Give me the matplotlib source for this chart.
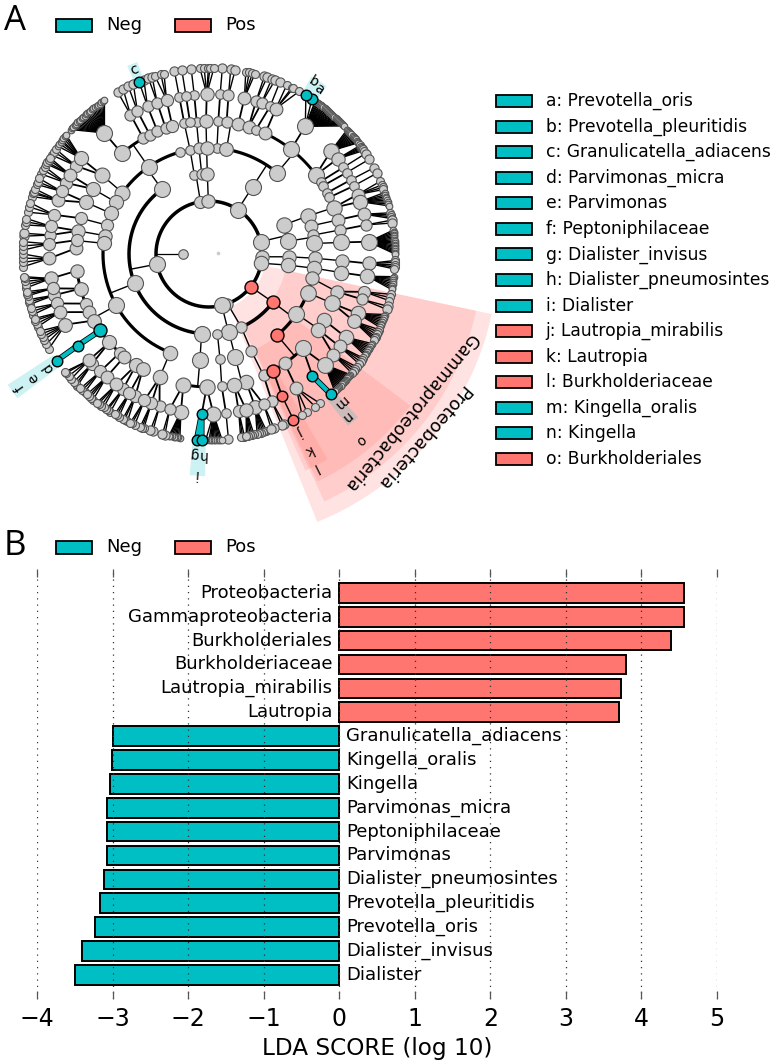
import numpy as np
import matplotlib
matplotlib.use('Agg')
import matplotlib.pyplot as plt
from matplotlib.patches import Polygon, Rectangle

NEG = '#00BFC4'
POS = '#FF7570'
GREY = '#CCCCCC'

# ---- panel B data
bar_names = ['Proteobacteria', 'Gammaproteobacteria', 'Burkholderiales', 'Burkholderiaceae',
             'Lautropia_mirabilis', 'Lautropia', 'Granulicatella_adiacens', 'Kingella_oralis',
             'Kingella', 'Parvimonas_micra', 'Peptoniphilaceae', 'Parvimonas',
             'Dialister_pneumosintes', 'Prevotella_pleuritidis', 'Prevotella_oris',
             'Dialister_invisus', 'Dialister']
bar_scores = [4.57, 4.56, 4.39, 3.80, 3.73, 3.71, -3.00, -3.01, -3.04, -3.08, -3.08, -3.08,
              -3.12, -3.17, -3.24, -3.41, -3.50]
x_ticks = [-4, -3, -2, -1, 0, 1, 2, 3, 4, 5]

# ---- panel A legend
key_names = ['a: Prevotella_oris', 'b: Prevotella_pleuritidis', 'c: Granulicatella_adiacens',
             'd: Parvimonas_micra', 'e: Parvimonas', 'f: Peptoniphilaceae', 'g: Dialister_invisus',
             'h: Dialister_pneumosintes', 'i: Dialister', 'j: Lautropia_mirabilis', 'k: Lautropia',
             'l: Burkholderiaceae', 'm: Kingella_oralis', 'n: Kingella', 'o: Burkholderiales']
key_colors = [NEG, NEG, NEG, NEG, NEG, NEG, NEG, NEG, NEG, POS, POS, POS, NEG, NEG, POS]

# ---- cladogram, angles in degrees, one dict per ring: parent angle -> child angles
L1_theta = [180]
L2_theta = [57, 13.4, -3, -10, -38.2, -69.6, -76, 191, 99.3, 90.7]
L3_children = {57: [57], 13.4: [21.3, 9.2], -3: [-2], -10: [-8], -38.2: [-37], -69.6: [-66.2],
               -76: [-75.7, -84], 191: [126, 201.6, 264.7], 99.3: [100.5, 95.2], 90.7: [91.2]}
L4_children = {57: [85.7, 80.5, 50], 21.3: [21], 9.2: [15.4, 10.3, 5.7], -2: [-2.3], -8: [-7.7],
               -37: [-13.3, -21.4, -34.4, -50], -66.2: [-66.4], -75.7: [-75.7], -84: [-84],
               126: [106, 124.8, 144.7, 150.9], 201.6: [157.5, 164.2, 170, 174.2, 209, 248.4],
               264.7: [265.1], 100.5: [100.3], 95.2: [95.4], 91.2: [91.3]}
L5_children = {85.7: [86], 80.5: [82.4, 77.3],
               50: [72.7, 69.3, 65, 51.9, 36.5, 33, 30.9, 27.4, 25.2],
               21: [20.4], 15.4: [14.8], 10.3: [10.4], 5.7: [5], -2.3: [-2.9], -7.7: [-8],
               -13.3: [-16.4], -21.4: [-21.8], -34.4: [-29.9, -34.7], -50: [-45.2, -55.3, -61.2],
               -66.4: [-65.8], -75.7: [-73.8, -79], -84: [-84.5],
               124.8: [130.9, 119.6, 116.4, 112.8, 109, 106], 144.7: [143.6], 150.9: [150.7],
               157.5: [157.2], 164.2: [164.4], 170: [170], 174.2: [177.5, 174],
               209: [187.2, 195.1, 201.9, 205.9, 210, 215.1, 221.5, 227.9, 230.5, 236.7, 240.1],
               248.4: [248.2], 265.1: [269, 258.9], 100.3: [100.7], 95.4: [95.3, 98.2], 91.3: [91.3]}
L6_children = {86: [86], 82.4: [83], 77.3: [77.2], 72.7: [72.9, 70.8], 69.3: [67.5], 65: [65.3],
               51.9: [53], 36.5: [40.2, 36.5], 33: [32.8], 30.9: [30.6], 27.4: [27.6], 25.2: [25.2],
               20.4: [21.8, 19.1], 14.8: [14.4], 10.4: [10.5], 5: [4.4], -2.9: [-3.4], -8: [-8],
               -16.4: [-13.7, -16.5], -21.8: [-21.8, -24.9], -29.9: [-31.3], -34.7: [-35.3, -39],
               -45.2: [-43.7, -49.7], -55.3: [-56.9], -61.2: [-62.8], -65.8: [-66.9],
               -73.8: [-73.2, -70], -79: [-79.3, -76.6], -84.5: [-83.9],
               130.9: [130.8], 119.6: [119.4], 116.4: [116.6], 112.8: [112.6], 109: [108.9],
               106: [105.4], 143.6: [146.5, 143.2], 150.7: [153.6, 150.3], 157.2: [160.4, 157],
               164.4: [165.8], 170: [173.2, 170.1], 174: [176.4], 177.5: [181.6], 187.2: [188.8],
               195.1: [194.9, 192.4], 201.9: [198], 205.9: [201.3], 210: [206.2], 215.1: [214.9],
               221.5: [223.2, 221.5], 227.9: [227.2], 230.5: [230.2], 236.7: [237.5, 234.6],
               240.1: [242.6, 240.2], 248.2: [252, 248.9, 246.2], 269: [267.4, 271.6],
               258.9: [259.9, 255.8], 100.7: [100.7], 98.2: [98.3], 95.3: [95.3], 91.3: [90.8]}
L7_children = {86: [85.9], 83: [83.3, 81.9], 77.2: [78.6, 77.5, 76.5, 75.7], 72.9: [72.7, 71.8],
               70.8: [70.3, 69.2], 67.5: [67.6], 65.3: [65.3, 63.5, 63, 61],
               53: [58.6, 56.4, 55.2, 54.8, 54.3, 53.9, 53.4, 53, 52.5, 52.1, 51.6, 51.2, 50.7, 50.3,
                    49.8, 49.4, 48.9, 48.5, 48, 47.6, 47.1, 46.7, 46.2, 45.8, 45.3, 44.9, 44.4, 44, 43.5],
               40.2: [42, 41.5, 41, 40.5, 40, 39.5, 39, 38.5, 38, 37.5, 37, 36.7],
               36.5: [35.7, 35.2, 34.8, 34.3, 33.8], 32.8: [32.7], 30.6: [30.6], 27.6: [27.6], 25.2: [25.7],
               21.8: [23, 21.8, 21, 20.3], 19.1: [19.3, 18.6, 18, 17.4, 16.8, 16.2, 15.6, 15],
               14.4: [12.8, 12.2, 11.6, 11], 10.5: [10.5, 9.6],
               4.4: [7.4, 6.9, 6.4, 5.9, 5.4, 4.9, 4.4, 3.9, 3.4, 2.9, 2.4, 1.9, 1.4, 0.9, 0.4, 0],
               -3.4: [-2, -2.6, -3.4, -4, -4.6], -8: [-7, -7.5, -8, -8.6, -9.2, -9.8, -10.4, -11],
               -13.7: [-12.5, -13.5, -14.5], -16.5: [-16.3, -17.3],
               -21.8: [-19, -19.6, -20.2, -20.8, -21.4, -22, -22.6, -23.2],
               -24.9: [-24, -24.8, -25.6, -26.4, -27, -27.6],
               -31.3: [-28.8, -29.4, -30, -30.6, -31.2, -31.8, -32.4, -33],
               -35.3: [-34, -34.6, -35.4, -36.2], -39: [-37.4, -38.2, -39, -39.8],
               -43.7: [-40.5, -41, -41.5, -42, -42.5, -43, -43.5, -44, -44.5, -45, -45.5, -46, -46.5, -47, -47.5],
               -49.7: [-49], -56.9: [-53.4, -55.2, -58.2, -60], -62.8: [-63], -66.9: [-66.1, -67],
               -70: [-69.5, -70.4], -73.2: [-72, -72.6, -73.2, -73.8, -74.4, -75],
               -76.6: [-76, -76.6, -77.2, -77.8, -78.4], -79.3: [-79, -79.6, -80.2], -83.9: [-84],
               271.6: [269, 270, 270.5, 271, 271.5, 272, 272.5, 273, 273.5, 274],
               267.4: [266.2, 267.7], 259.9: [261, 260.5, 260, 259.5, 259, 258.5, 258, 257.6],
               255.8: [256.3, 255.5], 252: [252.4, 251.6], 248.9: [249.5, 248.9, 248.3],
               246.2: [246.5, 245.6, 245], 242.6: [244, 243, 242.4], 240.2: [241, 240.2, 239.5],
               237.5: [238, 237, 236.5], 234.6: [235.5, 234.6, 233.6, 233], 230.2: [231.5, 230.5, 229.8, 229],
               227.2: [228, 227.1, 226.3], 223.2: [225, 224.3, 223.4], 221.5: [222.2, 221, 219.8, 219.3],
               214.9: [215], 206.2: [210.6, 209, 207.5, 206.5, 205.5, 204.5], 201.3: [203, 202, 201, 200.3],
               198: [199, 198, 197], 194.9: [195.7, 194.9, 194.2], 192.4: [193, 192.4, 191.7],
               188.8: [190.5, 189.5, 188.5, 187.5, 187], 181.6: [183.9, 182.6, 181.3, 180],
               176.4: [178.8, 177.5, 176.2], 173.2: [174.5, 173.6], 170.1: [171, 170, 169],
               165.8: [167, 165.3, 164], 160.4: [162, 161, 160.5, 159.5], 157: [158, 157.1, 156],
               153.6: [154.5, 153.1, 152], 150.3: [151, 150.4, 149.5, 148.8], 146.5: [147.8, 146.6, 145.6],
               143.2: [144.5, 143.6, 142.8, 142.3, 141.5, 140.8, 140.2],
               130.8: [138, 137.4, 136.8, 136.2, 135.6, 135, 134.4, 133.8, 133.2, 132.6, 132, 131.4, 130.8,
                       130.2, 129.6, 129, 128.4, 127.8, 127.2, 126.6, 126, 125.4, 124.8, 124.2],
               119.4: [119.4, 117.5], 116.6: [115.7, 114], 112.6: [112.1, 110.5], 108.9: [109, 107.8],
               105.4: [106.9, 105, 104], 100.7: [100.7], 98.3: [98.4], 95.3: [95.5],
               90.8: [92.8, 91.5, 90.2, 89.7, 88.5]}

# highlighted clades as (ring, angle)
pos_nodes = [(2, -38.2), (3, -37), (4, -50), (5, -61.2), (6, -62.8), (7, -63)]
neg_nodes = [(7, 56.4), (7, 58.6), (7, 112.1), (7, 215), (6, 214.9), (5, 215.1),
             (7, 266.2), (7, 267.7), (6, 267.4), (7, -49), (6, -49.7)]
neg_links = [((5, 215.1), (6, 214.9)), ((6, 214.9), (7, 215)), ((6, 267.4), (7, 266.2)),
             ((6, 267.4), (7, 267.7)), ((6, -49.7), (7, -49))]

# letter, angle, radius on the figure
clade_letters = [('a', 56.2, 198), ('b', 58.8, 201), ('c', 112, 199), ('d', 215.4, 197), ('e', 215.2, 215),
                 ('f', 215.2, 231), ('g', 265.8, 200), ('h', 268.2, 201), ('i', 266.6, 220),
                 ('j', -62.7, 199), ('k', -63.4, 220), ('l', -63.5, 238), ('m', -48.6, 198),
                 ('n', -50, 213), ('o', -50.9, 240)]

# background sectors: start, end, inner radius, outer radius
pos_sectors = [(-68, -12, 57, 289), (-65, -12, 78, 273), (-64.5, -37, 106, 252), (-66, -60, 133, 237)]
neg_sectors = [(213, 217, 186, 240), (265, 269, 188, 222), (-51, -47.6, 186, 221),
               (55, 60, 188, 205), (110.5, 113.5, 188, 205)]

CX, CY = 209, 254
RINGS = [0, 26.5, 53, 80, 106, 133, 160, 186]
children = {2: L3_children, 3: L4_children, 4: L5_children, 5: L6_children, 6: L7_children}
ARC_W = {2: 2.5, 3: 2.5, 4: 2.3, 5: 2.1}


def xy(theta, r):
    t = np.radians(theta)
    return CX + r * np.cos(t), CY - r * np.sin(t)


def count_leaves(level, theta):
    kids = children.get(level, {}).get(theta, [])
    if not kids:
        return 1
    return sum(count_leaves(level + 1, k) for k in kids)


def arc_line(t0, t1, r):
    n = int(abs(t1 - t0)) * 2 + 3
    return xy(np.linspace(t0, t1, n), r)


def sector(ax, t0, t1, r0, r1, color):
    a = np.linspace(t0, t1, 60)
    x0, y0 = xy(a, r0)
    x1, y1 = xy(a[::-1], r1)
    ax.add_patch(Polygon(np.c_[np.r_[x0, x1], np.r_[y0, y1]], closed=True, fc=color, ec='none',
                         alpha=0.2, zorder=1))


fig = plt.figure(figsize=(7.76, 10.64), dpi=100)

# ---- bar panel
ax = fig.add_axes([37.3 / 776, (1064 - 998.7) / 1064, 679.5 / 776, 429.7 / 1064])
rows = np.arange(len(bar_names))
ax.barh(rows, bar_scores, height=0.82, color=[POS if s > 0 else NEG for s in bar_scores],
        edgecolor='black', linewidth=1.4, zorder=2)
for i, (name, s) in enumerate(zip(bar_names, bar_scores)):
    if s > 0:
        ax.text(-0.09, i, name, ha='right', va='center', fontsize=13, zorder=4)
    else:
        ax.text(0.09, i, name, ha='left', va='center', fontsize=13, zorder=4)
ax.set_xlim(-4, 5)
ax.set_ylim(17, -1)
ax.set_xticks(x_ticks)
ax.set_xticklabels(['\u2212%d' % abs(v) if v < 0 else str(v) for v in x_ticks])
ax.set_yticks([])
ax.tick_params(axis='x', direction='in', top=True, length=6, width=0.9, color='#555555',
               labelsize=17, pad=6)
ax.grid(axis='x', linestyle=(0, (1, 4)), color='#333333', linewidth=0.9, zorder=3)
ax.set_axisbelow(False)
for side in ax.spines.values():
    side.set_visible(False)

# ---- overlay in figure pixels, holds the cladogram and the legends
ov = fig.add_axes([0, 0, 1, 1], facecolor='none')
ov.set_xlim(0, 776)
ov.set_ylim(1064, 0)
ov.axis('off')

ov.text(377, 1048, 'LDA SCORE (log 10)', ha='center', va='center', fontsize=16.7)

for s in pos_sectors:
    sector(ov, s[0], s[1], s[2], s[3], POS)
for s in neg_sectors:
    sector(ov, s[0], s[1], s[2], s[3], NEG)

# inner ring runs all the way round
x, y = arc_line(0, 360, RINGS[2])
ov.plot(x, y, color='black', lw=ARC_W[2], zorder=2)
x, y = zip(xy(180, RINGS[1]), xy(180, RINGS[2]))
ov.plot(x, y, color='black', lw=0.9, zorder=2)
# arc on the third ring shared by the two lower right clades
x, y = arc_line(-37, -66.2, RINGS[3])
ov.plot(x, y, color='black', lw=ARC_W[3], zorder=2)

nodes = [(1, t) for t in L1_theta] + [(2, t) for t in L2_theta]
frontier = list(L2_theta)
for level in range(2, 7):
    nxt = []
    for parent in frontier:
        kids = children[level].get(parent, [])
        if not kids:
            continue
        px, py = xy(parent, RINGS[level])
        if level <= 4:
            lo, hi = min(kids), max(kids)
            if hi > lo:
                ax_, ay_ = arc_line(lo, hi, RINGS[level + 1])
                ov.plot(ax_, ay_, color='black', lw=ARC_W[level + 1], zorder=2, solid_capstyle='round')
            qx, qy = xy(np.clip(parent, lo, hi), RINGS[level + 1])
            ov.plot([px, qx], [py, qy], color='black', lw=1.0, zorder=2)
        else:
            for k in kids:
                qx, qy = xy(k, RINGS[level + 1])
                ov.plot([px, qx], [py, qy], color='black', lw=1.3 if level == 5 else 1.0, zorder=2)
        nxt += kids
    nodes += [(level + 1, k) for k in nxt]
    frontier = nxt

for a, b in neg_links:
    x0, y0 = xy(a[1], RINGS[a[0]])
    x1, y1 = xy(b[1], RINGS[b[0]])
    ov.plot([x0, x1], [y0, y1], color='black', lw=4.2, zorder=2.5)
    ov.plot([x0, x1], [y0, y1], color=NEG, lw=3, zorder=2.6)

# node radius follows how much hangs below it
for level, t in sorted(nodes, key=lambda n: -n[0]):
    if level == 7:
        sib = 1
        for group in L7_children.values():
            if t in group:
                sib = len(group)
                break
        rad = 4.6 if sib <= 2 else (4.0 if sib <= 6 else 3.3)
    else:
        n = count_leaves(level, t)
        rad = min(8, 4.8 + 0.8 * np.log2(n))
    key = (level, t)
    if key in pos_nodes or key in neg_nodes:
        continue
    x, y = xy(t, RINGS[level])
    ov.scatter([x], [y], s=(2 * rad * 0.72) ** 2, color=GREY, edgecolor='#555555', linewidth=0.8,
               zorder=3)

for group, col in ((pos_nodes, POS), (neg_nodes, NEG)):
    for level, t in group:
        x, y = xy(t, RINGS[level])
        rad = 5.3 if level > 5 else 6.5
        ov.scatter([x], [y], s=(2 * rad * 0.72) ** 2, color=col, edgecolor='black', linewidth=1.0, zorder=4)

ov.scatter([218], [253], s=7, color=GREY, linewidth=0, zorder=3)

for letter, t, r in clade_letters:
    x, y = xy(t, r)
    ov.text(x, y, letter, rotation=t - 90, ha='center', va='center', fontsize=10, zorder=5,
            rotation_mode='anchor')

ov.text(411, 412, 'Gammaproteobacteria', rotation=-129.5, ha='center', va='center',
        fontsize=12.6, rotation_mode='anchor', zorder=5)
ov.text(423, 437, 'Proteobacteria', rotation=-131, ha='center', va='center',
        fontsize=13, rotation_mode='anchor', zorder=5)

# ---- legends, panel letters
for top, letter, ly in ((19, 'A', 21), (541, 'B', 546)):
    ov.add_patch(Rectangle((56, top), 36, 13, fc=NEG, ec='black', lw=1.3, zorder=5))
    ov.add_patch(Rectangle((175, top), 36, 13, fc=POS, ec='black', lw=1.3, zorder=5))
    ov.text(106, top + 6.5, 'Neg', va='center', fontsize=13, zorder=5)
    ov.text(225, top + 6.5, 'Pos', va='center', fontsize=13, zorder=5)
    ov.text(4, ly, letter, va='center', family='Open Sans', fontsize=25, zorder=5)

for i, (name, col) in enumerate(zip(key_names, key_colors)):
    yy = 101 + i * 25.57
    ov.add_patch(Rectangle((496, yy - 6), 35.5, 12, fc=col, ec='black', lw=1.3, zorder=5))
    ov.text(545.5, yy, name, va='center', fontsize=12.3, zorder=5)

fig.savefig('out.png', dpi=100)
